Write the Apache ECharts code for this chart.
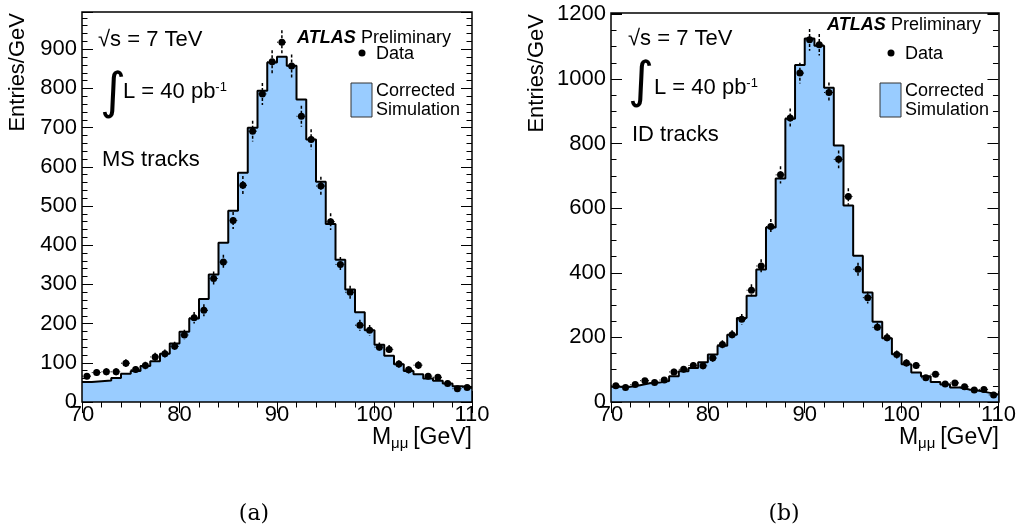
<!DOCTYPE html>
<html>
<head>
<meta charset="utf-8">
<script src="https://cdn.jsdelivr.net/npm/echarts@6/dist/echarts.min.js"></script>
<style>
html,body{margin:0;padding:0;background:#fff;}
#chart{width:1019px;height:524px;}
</style>
</head>
<body>
<div id="chart"></div>
<script>
// ---------------- data ----------------
const binCenters = [70.5,71.5,72.5,73.5,74.5,75.5,76.5,77.5,78.5,79.5,
                    80.5,81.5,82.5,83.5,84.5,85.5,86.5,87.5,88.5,89.5,
                    90.5,91.5,92.5,93.5,94.5,95.5,96.5,97.5,98.5,99.5,
                    100.5,101.5,102.5,103.5,104.5,105.5,106.5,107.5,108.5,109.5];
const xTicks = [70, 80, 90, 100, 110];

// (a) MS tracks
const msSim  = [51,53,55,61,72,79,92,104,123,149,
                179,213,263,325,406,488,585,700,794,866,
                881,858,772,670,562,454,363,287,229,183,
                146,118,96,79,71,60,54,47,40,36];
const msData = [66,75,77,77,99,83,93,115,123,142,
                171,215,234,315,357,463,553,691,786,868,
                918,857,729,670,551,460,351,280,196,183,
                140,134,97,82,94,66,63,47,34,37];
const msErr  = [8.1,8.7,8.8,8.8,9.9,9.1,9.6,10.7,11.1,11.9,
                13.1,14.7,15.3,17.7,18.9,21.5,23.5,26.3,28.0,29.5,
                30.3,29.3,27.0,25.9,23.5,21.4,18.7,16.7,14.0,13.5,
                11.8,11.6,9.8,9.1,9.7,8.1,7.9,6.9,5.8,6.1];
const msYTicks = [0,100,200,300,400,500,600,700,800,900];

// (b) ID tracks
const idSim  = [47,47,52,58,60,65,80,95,105,123,
                147,174,208,260,329,410,540,692,877,1043,
                1125,1103,973,794,608,453,339,248,197,148,
                117,91,80,62,54,45,39,35,29,23];
const idData = [50,45,54,66,60,68,93,101,113,112,
                136,178,208,256,346,421,543,703,879,1018,
                1121,1106,958,751,636,411,323,231,199,147,
                121,113,75,86,56,59,47,37,39,22];
const idErr  = [7.1,6.7,7.3,8.1,7.7,8.2,9.6,10.0,10.6,10.6,
                11.7,13.3,14.4,16.0,18.6,20.5,23.3,26.5,29.6,31.9,
                33.5,33.3,31.0,27.4,25.2,20.3,18.0,15.2,14.1,12.1,
                11.0,10.6,8.7,9.3,7.5,7.7,6.9,6.1,6.2,4.7];
const idYTicks = [0,200,400,600,800,1000,1200];

// ---------------- helpers ----------------
const FONT = '"Liberation Sans", Arial, Helvetica, sans-serif';
const SIM_COLOR = '#99ccff';

function stepData(sim) {
  const pts = binCenters.map((c, i) => [c - 0.5, sim[i]]);
  pts.push([binCenters[binCenters.length - 1] + 0.5, sim[sim.length - 1]]);
  return pts;
}
function pointData(vals) { return binCenters.map((c, i) => [c, vals[i]]); }
function errData(vals, errs) { return binCenters.map((c, i) => [c, vals[i], errs[i]]); }

function errRender(params, api) {
  const x = api.value(0), y = api.value(1), e = api.value(2);
  const t = api.coord([x, y + e]), b = api.coord([x, y - e]);
  const l = api.coord([x - 0.5, y]), r = api.coord([x + 0.5, y]);
  return {
    type: 'group',
    children: [
      {type: 'line', shape: {x1: t[0], y1: t[1], x2: b[0], y2: b[1]},
       style: {stroke: '#000', lineWidth: 1.5, lineDash: [3, 2]}},
      {type: 'line', shape: {x1: l[0], y1: l[1], x2: r[0], y2: r[1]},
       style: {stroke: '#000', lineWidth: 1, lineDash: [1, 3]}}
    ]
  };
}

const G = [
  {left: 82, top: 12, width: 390, height: 390},
  {left: 611, top: 13, width: 388, height: 389}
];

function xAxisFor(gi, pos) {
  return {
    type: 'value', gridIndex: gi, position: pos,
    min: xTicks[0], max: xTicks[xTicks.length - 1], interval: xTicks[1] - xTicks[0],
    axisLine: {show: false},
    axisTick: {show: true, inside: true, length: 11, lineStyle: {color: '#000', width: 1}},
    minorTick: {show: true, splitNumber: 5, length: 5.5, lineStyle: {color: '#000', width: 1}},
    splitLine: {show: false}, minorSplitLine: {show: false},
    axisLabel: {show: pos === 'bottom', margin: 2, color: '#000', fontSize: 22, fontFamily: FONT,
                formatter: v => (xTicks.indexOf(v) >= 0 ? String(v) : '')}
  };
}
function yAxisFor(gi, pos, ticks, max, minorSplit) {
  return {
    type: 'value', gridIndex: gi, position: pos,
    min: ticks[0], max: max, interval: ticks[1] - ticks[0],
    axisLine: {show: false},
    axisTick: {show: true, inside: true, length: 11, lineStyle: {color: '#000', width: 1}},
    minorTick: {show: true, splitNumber: minorSplit, length: 5.5, lineStyle: {color: '#000', width: 1}},
    splitLine: {show: false}, minorSplitLine: {show: false},
    axisLabel: {show: pos === 'left', margin: 5, color: '#000', fontSize: 22, fontFamily: FONT,
                showMaxLabel: false,
                formatter: v => (ticks.indexOf(v) >= 0 ? String(v) : '')}
  };
}

function panelSeries(xi, yi, sim, data, err) {
  return [
    {type: 'line', xAxisIndex: xi, yAxisIndex: yi, data: stepData(sim), step: 'end',
     symbol: 'none', z: 2, silent: true,
     lineStyle: {color: '#000', width: 2}, areaStyle: {color: SIM_COLOR, opacity: 1}},
    {type: 'custom', xAxisIndex: xi, yAxisIndex: yi, data: errData(data, err),
     renderItem: errRender, encode: {x: 0, y: 1}, z: 3, silent: true},
    {type: 'scatter', xAxisIndex: xi, yAxisIndex: yi, data: pointData(data),
     symbol: 'circle', symbolSize: 7, itemStyle: {color: '#000', opacity: 1}, z: 4, silent: true}
  ];
}

function txt(x, y, text, size, extra) {
  return {
    type: 'text', x: x, y: y, z: 20,
    style: Object.assign({text: text, fill: '#000', font: size + 'px ' + FONT,
                          align: 'left', verticalAlign: 'middle'}, extra || {})
  };
}

function panelGraphics(dx, o) {
  const g = G[dx];
  const items = [];
  // frame
  items.push({type: 'rect', z: 15, silent: true,
    shape: {x: g.left, y: g.top, width: g.width, height: g.height},
    style: {fill: 'transparent', stroke: '#000', lineWidth: 1.5}});
  // ATLAS Preliminary
  items.push(txt(o.atlasX, o.atlasY, 'ATLAS', 18, {font: 'italic bold 18px ' + FONT}));
  items.push(txt(o.atlasX + 64, o.atlasY, 'Preliminary', 18));
  // sqrt s
  items.push(txt(o.sX, o.sY, '√s = 7 TeV', 22));
  // integral L
  items.push(txt(o.intX, o.intY, '∫', 50, {font: '50px "DejaVu Sans", sans-serif'}));
  items.push({type: 'text', x: o.lX, y: o.lY, z: 20,
    style: {text: '{a|L = 40 pb}{b|-1}', align: 'left', verticalAlign: 'middle',
      rich: {a: {fontSize: 22, fontFamily: FONT, fill: '#000', verticalAlign: 'bottom'},
             b: {fontSize: 13, fontFamily: FONT, fill: '#000', verticalAlign: 'top'}}}});
  // tracks
  items.push(txt(o.trX, o.trY, o.tracks, 22));
  // legend: data
  items.push({type: 'circle', z: 20, shape: {cx: o.legX - 14, cy: o.dataY - 1, r: 3.5}, style: {fill: '#000'}});
  items.push(txt(o.legX, o.dataY, 'Data', 18));
  // legend: simulation
  items.push({type: 'rect', z: 20, shape: {x: o.legX - 25, y: 83, width: 21, height: 34},
    style: {fill: SIM_COLOR, stroke: '#333', lineWidth: 1}});
  items.push(txt(o.legX, 91, 'Corrected', 18));
  items.push(txt(o.legX, 110, 'Simulation', 18));
  // axis titles
  items.push({type: 'text', x: o.yTitleX, y: g.top + 1, rotation: Math.PI / 2, z: 20,
    style: {text: 'Entries/GeV', fill: '#000', font: '22px ' + FONT, align: 'right', verticalAlign: 'middle'}});
  const right = g.left + g.width;
  items.push(txt(right, 438, '[GeV]', 23, {align: 'right'}));
  items.push(txt(right - 81, 444, 'μμ', 15, {align: 'left'}));
  items.push(txt(right - 100, 438, 'M', 23, {align: 'left'}));
  // caption
  items.push(txt(o.capX, 514, o.cap, 22, {align: 'center', font: '22px "DejaVu Serif", "Liberation Serif", serif'}));
  return items;
}

const graphics = [].concat(
  panelGraphics(0, {atlasX: 297, atlasY: 38, sX: 98, sY: 40, intX: 100, intY: 95, lX: 123, lY: 92,
                    tracks: 'MS tracks', trX: 102, trY: 160, legX: 376, dataY: 54,
                    yTitleX: 18, capX: 254, cap: '(a)'}),
  panelGraphics(1, {atlasX: 827, atlasY: 25, sX: 628, sY: 39, intX: 628, intY: 84, lX: 654, lY: 88,
                    tracks: 'ID tracks', trX: 632, trY: 135, legX: 905, dataY: 54,
                    yTitleX: 537, capX: 784, cap: '(b)'})
);

const option = {
  animation: false,
  backgroundColor: '#fff',
  grid: G.map(g => Object.assign({containLabel: false}, g)),
  xAxis: [xAxisFor(0, 'bottom'), xAxisFor(0, 'top'), xAxisFor(1, 'bottom'), xAxisFor(1, 'top')],
  yAxis: [yAxisFor(0, 'left', msYTicks, 995, 5), yAxisFor(0, 'right', msYTicks, 995, 5),
          yAxisFor(1, 'left', idYTicks, 1204, 4), yAxisFor(1, 'right', idYTicks, 1204, 4)],
  series: [].concat(
    panelSeries(0, 0, msSim, msData, msErr),
    panelSeries(2, 2, idSim, idData, idErr)
  ),
  graphic: graphics
};

const chart = echarts.init(document.getElementById('chart'), null, {renderer: 'canvas'});
chart.setOption(option);
</script>
</body>
</html>
